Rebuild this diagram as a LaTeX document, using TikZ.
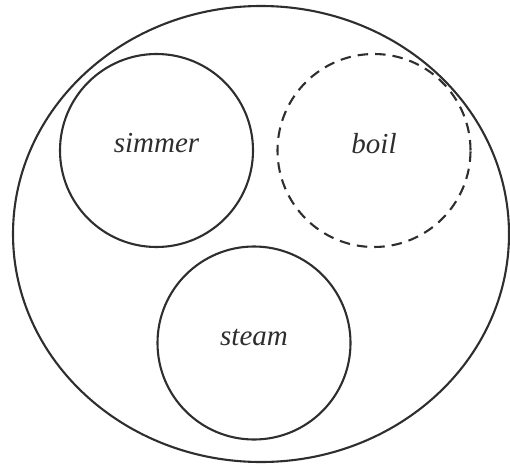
\documentclass[tikz,border=0pt]{standalone}
\usepackage{fontspec}
\setmainfont{Liberation Serif}
\usetikzlibrary{shapes.geometric}
\definecolor{inkgray}{HTML}{2E2E2E}

\begin{document}
\begin{tikzpicture}[
    x=1pt, y=-1pt,
    % Styles
    outer/.style={ellipse, draw=inkgray, line width=2.1pt, minimum width=496pt, minimum height=456pt, inner sep=0pt},
    ring/.style={circle, draw=inkgray, line width=2.1pt, minimum size=193pt, inner sep=0pt},
    dashring/.style={ring, dash pattern=on 10.5pt off 7pt},
    word/.style={font=\fontsize{29}{34}\selectfont\itshape, text=inkgray, inner sep=0pt},
]
\useasboundingbox (0,0) rectangle (510,465);

% === OUTER SET ===
\node[outer] (pot) at (261,234) {};

% === SUBSETS ===
\node[ring] (simmer) at (156.5,150.5) {};
\node[dashring] (boil) at (374,150.5) {};
\node[ring] (steam) at (254,343) {};

% Labels
\node[word] at ([yshift=7pt]simmer.center) {simmer};
\node[word] at ([yshift=7pt]boil.center) {boil};
\node[word] at ([yshift=6pt]steam.center) {steam};

\end{tikzpicture}
\end{document}
